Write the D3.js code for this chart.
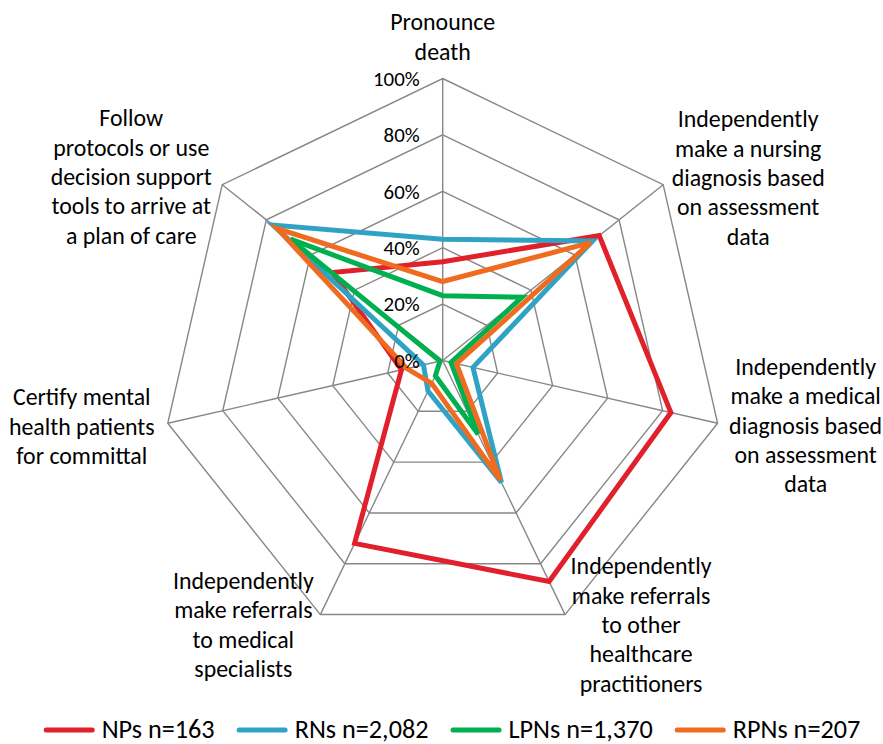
<!DOCTYPE html>
<html>
<head>
<meta charset="utf-8">
<script src="https://cdn.jsdelivr.net/npm/d3@7"></script>
<style>
  html, body { margin: 0; padding: 0; background: #fff; }
  svg { display: block; }
  text { font-family: Carlito, Lato, "Open Sans", sans-serif; fill: #000; }
</style>
</head>
<body>
<svg id="chart" width="883" height="744"></svg>
<script>
// ---- data ----
const categories = [
  "Pronounce\ndeath",
  "Independently\nmake a nursing\ndiagnosis based\non assessment\ndata",
  "Independently\nmake a medical\ndiagnosis based\non assessment\ndata",
  "Independently\nmake referrals\nto other\nhealthcare\npractitioners",
  "Independently\nmake referrals\nto medical\nspecialists",
  "Certify mental\nhealth patients\nfor committal",
  "Follow\nprotocols or use\ndecision support\ntools to arrive at\na plan of care"
];
const seriesNames = ["NPs n=163", "RNs n=2,082", "LPNs n=1,370", "RPNs n=207"];
const npsValues  = [35, 71, 83, 87, 72, 15, 50];
const rnsValues  = [43, 68, 11, 48, 12, 7, 77];
const lpnsValues = [23, 36, 3, 29, 6, 1, 69];
const rpnsValues = [28, 67, 5, 47, 9, 13, 75];
const tickValues = [0, 20, 40, 60, 80, 100];
const tickLabels = ["0%", "20%", "40%", "60%", "80%", "100%"];
const seriesColors = ["#E0212B", "#30A3C5", "#00B050", "#EE6B1F"];

// ---- layout ----
const svg = d3.select("#chart");
const cx = 442.7, cy = 360.5, R = 282;
const n = categories.length;
const rScale = d3.scaleLinear().domain([0, 100]).range([0, R]);
const aScale = d3.scaleLinear().domain([0, n]).range([0, 2 * Math.PI]);
const px = (i, v) => cx + rScale(v) * Math.sin(aScale(i));
const py = (i, v) => cy - rScale(v) * Math.cos(aScale(i));

// font sizing by measurement
function fitSize(str, target) {
  const t = svg.append("text").attr("font-size", 100).text(str);
  const w = t.node().getComputedTextLength();
  t.remove();
  return 100 * target / w;
}
const labelSize = fitSize("Independently", 141);
const tickSize = fitSize("100%", 46.7);
const legendSize = fitSize("NPs n=163", 113);

const g = svg.append("g");

// grid polygons
const gridColor = "#878787";
tickValues.filter(v => v > 0).forEach(v => {
  const pts = d3.range(n).map(i => [px(i, v), py(i, v)]);
  g.append("path")
    .attr("d", d3.line().curve(d3.curveLinearClosed)(pts))
    .attr("fill", "none").attr("stroke", gridColor).attr("stroke-width", 1.4);
});
// spokes
d3.range(n).forEach(i => {
  g.append("line")
    .attr("x1", px(i, 0)).attr("y1", py(i, 0))
    .attr("x2", px(i, 100)).attr("y2", py(i, 100))
    .attr("stroke", gridColor).attr("stroke-width", 1.4);
});

// series
const seriesValues = [npsValues, rnsValues, lpnsValues, rpnsValues];
const radial = d3.lineRadial()
  .angle((d, i) => aScale(i))
  .radius(d => rScale(d))
  .curve(d3.curveLinearClosed);
seriesValues.forEach((vals, s) => {
  g.append("path")
    .attr("transform", `translate(${cx},${cy})`)
    .attr("d", radial(vals))
    .attr("fill", "none")
    .attr("stroke", seriesColors[s])
    .attr("stroke-width", 5)
    .attr("stroke-linejoin", "miter");
});

// tick labels (drawn above the series)
tickValues.forEach((v, k) => {
  g.append("text")
    .attr("x", cx - 23).attr("y", py(0, v))
    .attr("dy", "0.35em")
    .attr("text-anchor", "end")
    .attr("font-size", tickSize)
    .text(tickLabels[k]);
});

// category labels (block centre offset from the 100% vertex)
const labelOffsets = [[0, -42], [85, -7], [88, 2], [76, 10], [-77, 10], [-86, 3], [-91, -8]];
const lineGap = 29.3;
categories.forEach((c, i) => {
  const lines = c.split("\n");
  const bx = px(i, 100) + labelOffsets[i][0];
  const by = py(i, 100) + labelOffsets[i][1];
  const t = g.append("text")
    .attr("text-anchor", "middle")
    .attr("font-size", labelSize);
  lines.forEach((ln, j) => {
    t.append("tspan")
      .attr("x", bx)
      .attr("y", by + (j - (lines.length - 1) / 2) * lineGap)
      .attr("dy", "0.35em")
      .text(ln);
  });
});

// legend
const legY = 729;
const lineLen = 51, textGap = 7, itemGap = 22;
const lg = svg.append("g");
let x = 0;
seriesNames.forEach((name, s) => {
  const it = lg.append("g").attr("transform", `translate(${x},0)`);
  it.append("line")
    .attr("x1", 2.5).attr("x2", lineLen - 2.5)
    .attr("y1", legY + 1).attr("y2", legY + 1)
    .attr("stroke", seriesColors[s]).attr("stroke-width", 5)
    .attr("stroke-linecap", "round");
  const t = it.append("text")
    .attr("x", lineLen + textGap).attr("y", legY)
    .attr("dy", "0.35em")
    .attr("font-size", legendSize)
    .text(name);
  x += lineLen + textGap + t.node().getComputedTextLength() + itemGap;
});
const totalW = x - itemGap;
lg.attr("transform", `translate(${452 - totalW / 2},0)`);
</script>
</body>
</html>
